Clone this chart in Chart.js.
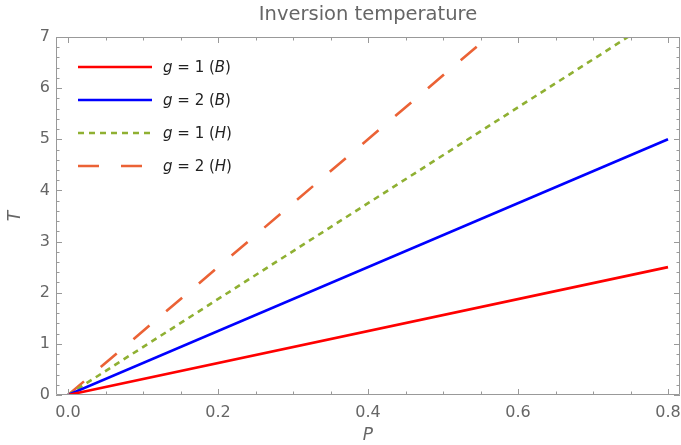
<!DOCTYPE html>
<html>
<head>
<meta charset="utf-8">
<script src="https://cdn.jsdelivr.net/npm/chart.js@4.4.1/dist/chart.umd.min.js"></script>
<style>
  html, body { margin: 0; padding: 0; background: #fff; }
  #wrap { width: 681px; height: 445px; position: relative; }
</style>
</head>
<body>
<div id="wrap"><canvas id="invChart"></canvas></div>
<script>
// data (straight lines from the origin)
const pValues = [0, 0.8];
const tG1B = [0, 2.5];
const tG2B = [0, 5.0];
const tG1H = [0, 7.5];
const tG2H = [0, 10.0];
const seriesNames = [['g', ' = 1 (', 'B', ')'], ['g', ' = 2 (', 'B', ')'], ['g', ' = 1 (', 'H', ')'], ['g', ' = 2 (', 'H', ')']];
const xTicks = [0, 0.2, 0.4, 0.6, 0.8];
const yTicks = [0, 1, 2, 3, 4, 5, 6, 7];

(function() {
    const ctx = document.getElementById('invChart');
    const gray = '#999999';
    const labelGray = '#666666';
    const fontFam = '"DejaVu Sans", sans-serif';

    const toPts = (ys) => pValues.map((p, i) => ({ x: p, y: ys[i] }));

    const mk = (label, ys, color, dash) => ({
        label: label,
        data: toPts(ys),
        borderColor: color,
        backgroundColor: color,
        borderWidth: 2.6,
        borderDash: dash,
        pointRadius: 0,
        tension: 0,
        fill: false
    });

    // frame, ticks, legend, titles (Mathematica-style)
    const framePlugin = {
        id: 'frame',
        afterDraw(chart) {
            const c = chart.ctx;
            const a = chart.chartArea;
            const xs = chart.scales.x, ys = chart.scales.y;
            c.save();
            c.strokeStyle = gray;
            c.lineWidth = 1;
            c.beginPath();
            c.rect(a.left + 0.5, a.top + 0.5, a.right - a.left - 1, a.bottom - a.top - 1);
            c.stroke();
            // x ticks
            for (let i = 0; i <= 16; i++) {
                const v = i * 0.05;
                const px = Math.round(xs.getPixelForValue(v)) + 0.5;
                const len = (i % 4 === 0) ? 6 : 3.5;
                c.beginPath();
                c.moveTo(px, a.bottom); c.lineTo(px, a.bottom - len);
                c.moveTo(px, a.top); c.lineTo(px, a.top + len);
                c.stroke();
            }
            // y ticks
            for (let i = 0; i <= 35; i++) {
                const v = i * 0.2;
                const py = Math.round(ys.getPixelForValue(v)) + 0.5;
                const len = (i % 5 === 0) ? 6 : 3.5;
                c.beginPath();
                c.moveTo(a.left, py); c.lineTo(a.left + len, py);
                c.moveTo(a.right, py); c.lineTo(a.right - len, py);
                c.stroke();
            }
            // title
            c.fillStyle = labelGray;
            c.font = '19.5px ' + fontFam;
            c.textAlign = 'center';
            c.textBaseline = 'middle';
            c.fillText('Inversion temperature', 368, 15);
            // axis labels
            c.font = 'italic 17px ' + fontFam;
            c.fillText('P', 368, 436);
            c.save();
            c.translate(16, 216);
            c.rotate(-Math.PI / 2);
            c.fillText('T', 0, 0);
            c.restore();
            // legend
            const rows = [67, 100, 133, 166];
            chart.data.datasets.forEach((ds, i) => {
                const y = rows[i];
                c.strokeStyle = ds.borderColor;
                c.lineWidth = ds.borderWidth;
                c.setLineDash(ds.borderDash || []);
                c.beginPath();
                c.moveTo(78, y); c.lineTo(152, y);
                c.stroke();
                c.setLineDash([]);
                let x = 163;
                c.fillStyle = '#222222';
                c.textAlign = 'left';
                seriesNames[i].forEach((part, k) => {
                    c.font = (k % 2 === 0 ? 'italic ' : '') + '15px ' + fontFam;
                    c.fillText(part, x, y + 1);
                    x += c.measureText(part).width;
                });
            });
            c.restore();
        }
    };

    new Chart(ctx, {
        type: 'line',
        data: {
            datasets: [
                mk('g = 1 (B)', tG1B, '#ff0000', []),
                mk('g = 2 (B)', tG2B, '#0000ff', []),
                mk('g = 1 (H)', tG1H, '#8fb032', [6, 5]),
                mk('g = 2 (H)', tG2H, '#eb6235', [21, 22])
            ]
        },
        options: {
            responsive: true,
            maintainAspectRatio: false,
            animation: false,
            layout: { padding: { top: 37, right: 1, left: 0, bottom: 0 } },
            plugins: {
                legend: { display: false },
                title: { display: false },
                tooltip: { enabled: false }
            },
            scales: {
                x: {
                    type: 'linear',
                    min: -0.016,
                    max: 0.816,
                    afterBuildTicks: (s) => { s.ticks = xTicks.map(v => ({ value: v })); },
                    afterFit: (s) => { s.height = 50; s.paddingLeft = 0; s.paddingRight = 0; },
                    grid: { display: false, drawTicks: false },
                    border: { display: false },
                    ticks: {
                        color: labelGray,
                        font: { family: fontFam, size: 16 },
                        padding: 8,
                        maxRotation: 0,
                        callback: (v) => v.toFixed(1)
                    }
                },
                y: {
                    type: 'linear',
                    min: 0,
                    max: 7,
                    afterBuildTicks: (s) => { s.ticks = yTicks.map(v => ({ value: v })); },
                    afterFit: (s) => { s.width = 56; s.paddingTop = 0; s.paddingBottom = 0; },
                    grid: { display: false, drawTicks: false },
                    border: { display: false },
                    ticks: {
                        color: labelGray,
                        font: { family: fontFam, size: 16 },
                        padding: 6,
                        callback: (v) => String(v)
                    }
                }
            }
        },
        plugins: [framePlugin]
    });
})();
</script>
</body>
</html>
